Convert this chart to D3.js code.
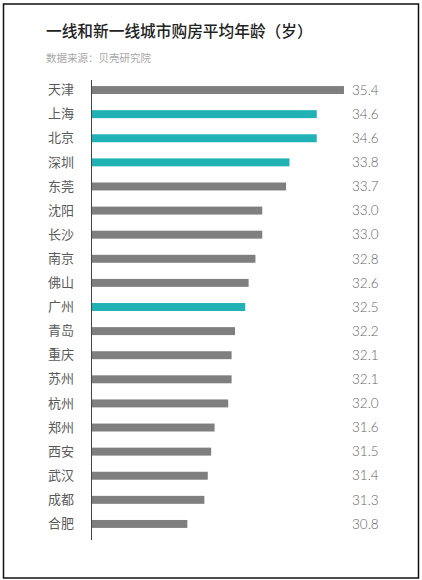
<!DOCTYPE html>
<html>
<head>
<meta charset="utf-8">
<script src="https://cdn.jsdelivr.net/npm/d3@7"></script>
<style>
  body { margin: 0; background: #fff; }
  svg { display: block; }
</style>
</head>
<body>
<main></main>
<script>
// cities top to bottom, average age of home buyers
const cities = ['天津', '上海', '北京', '深圳', '东莞', '沈阳', '长沙', '南京', '佛山', '广州',
  '青岛', '重庆', '苏州', '杭州', '郑州', '西安', '武汉', '成都', '合肥'];
const ages = [35.4, 34.6, 34.6, 33.8, 33.7, 33.0, 33.0, 32.8, 32.6, 32.5,
  32.2, 32.1, 32.1, 32.0, 31.6, 31.5, 31.4, 31.3, 30.8];
// first-tier cities get the teal colour
const firstTier = ['上海', '北京', '深圳', '广州'];

const w = 422;
const h = 580;
const cjk = '"Noto Sans CJK SC", "Noto Sans", sans-serif';

const data = cities.map((c, i) => ({ city: c, age: ages[i] }));

const svg = d3.select('main').append('svg')
  .attr('width', w)
  .attr('height', h);

// frame
svg.append('rect')
  .attr('x', 3.5).attr('y', 4)
  .attr('width', 415).attr('height', 574)
  .attr('fill', 'none')
  .attr('stroke', '#111')
  .attr('stroke-width', 1.5);

svg.append('text')
  .attr('x', 46).attr('y', 36.5)
  .attr('font-family', cjk)
  .attr('font-size', 15.7)
  .attr('font-weight', 500)
  .attr('fill', '#222')
  .text('一线和新一线城市购房平均年龄（岁）');

svg.append('text')
  .attr('x', 46).attr('y', 62)
  .attr('font-family', cjk)
  .attr('font-size', 10.5)
  .attr('fill', '#a8a8a8')
  .text('数据来源：贝壳研究院');

const xScale = d3.scaleLinear()
  .domain([28, 36])
  .range([92, 92 + 8 * 34.05]);

const yScale = d3.scaleBand()
  .domain(cities)
  .range([78, 536])
  .paddingInner(0.67)
  .paddingOuter(0.335);

svg.selectAll('rect.bar')
  .data(data)
  .enter()
  .append('rect')
  .attr('class', 'bar')
  .attr('x', xScale(28))
  .attr('y', d => yScale(d.city))
  .attr('width', d => xScale(d.age) - xScale(28))
  .attr('height', yScale.bandwidth())
  .attr('fill', d => firstTier.includes(d.city) ? '#1fb1b4' : '#7f7f7f');

const yAxis = d3.axisLeft(yScale).tickSize(0).tickPadding(18);

const axisG = svg.append('g')
  .attr('id', 'y-axis')
  .attr('transform', `translate(${xScale(28)}, 0)`)
  .call(yAxis);

axisG.select('.domain').remove();
axisG.selectAll('text')
  .attr('font-family', cjk)
  .attr('font-size', 13)
  .attr('fill', '#5a5a5a');

svg.append('line')
  .attr('x1', xScale(28) - 0.5).attr('x2', xScale(28) - 0.5)
  .attr('y1', 80).attr('y2', 540)
  .attr('stroke', '#444')
  .attr('stroke-width', 1);

svg.selectAll('text.val')
  .data(data)
  .enter()
  .append('text')
  .attr('class', 'val')
  .attr('x', 352)
  .attr('y', d => yScale(d.city) + yScale.bandwidth() / 2)
  .attr('dy', '0.35em')
  .attr('font-family', 'Lato, "Noto Sans", sans-serif')
  .attr('font-weight', 300)
  .attr('font-size', 13.5)
  .attr('fill', '#666')
  .text(d => d.age.toFixed(1));
</script>
</body>
</html>
